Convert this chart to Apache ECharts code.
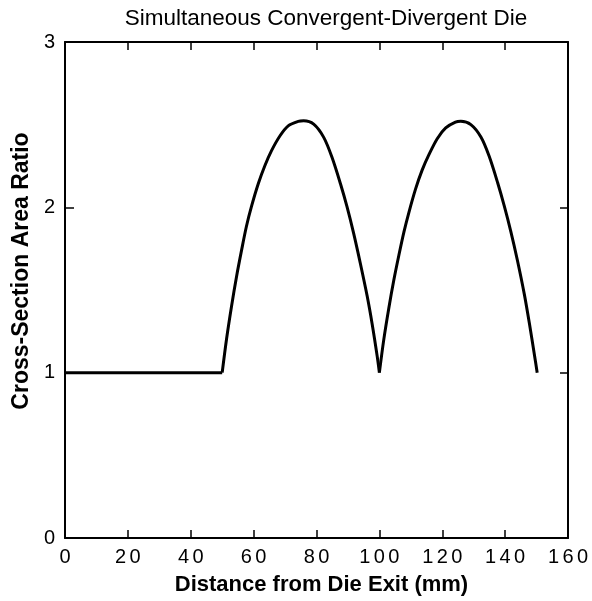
<!DOCTYPE html>
<html>
<head>
<meta charset="utf-8">
<script src="https://cdn.jsdelivr.net/npm/echarts@6/dist/echarts.min.js"></script>
<style>
html,body{margin:0;padding:0;background:#fff;}
#chart{width:592px;height:601px;}
</style>
</head>
<body>
<div id="chart"></div>
<script>
// Data
const titleText = 'Simultaneous Convergent-Divergent Die';
const xName = 'Distance from Die Exit (mm)';
const yName = 'Cross-Section Area Ratio';
const xTicks = [0, 20, 40, 60, 80, 100, 120, 140, 160];
const yTicks = [0, 1, 2, 3];

const flatX = [0, 50];
const flatY = [1, 1];

const arc1X = [50, 51.4, 53.0, 54.6, 56.2, 57.7, 59.3, 61.5, 63.6, 65.7, 68.4, 71.0, 74.2, 75.9, 79.1, 82.3, 84.9, 87.6, 89.7, 91.8, 93.9, 96.1, 97.7, 99.3, 100];
const arc1Y = [1.0, 1.205, 1.405, 1.585, 1.744, 1.884, 2.004, 2.144, 2.253, 2.343, 2.433, 2.493, 2.52, 2.523, 2.503, 2.423, 2.304, 2.144, 2.004, 1.844, 1.665, 1.465, 1.295, 1.1, 1.0];

const arc2X = [100, 101.4, 103, 104.6, 106.2, 107.8, 109.4, 111.5, 113.6, 115.8, 118.4, 121.1, 124.2, 125.9, 129.1, 132.3, 134.9, 137.6, 139.7, 141.8, 143.9, 146.1, 147.7, 149.3, 150.2];
const arc2Y = [1.0, 1.2, 1.39, 1.56, 1.71, 1.85, 1.97, 2.11, 2.225, 2.32, 2.415, 2.48, 2.515, 2.52, 2.5, 2.425, 2.31, 2.15, 2.01, 1.855, 1.68, 1.475, 1.3, 1.11, 1.0];

function pairs(xs, ys) { return xs.map((x, i) => [x, ys[i]]); }

const chart = echarts.init(document.getElementById('chart'), null, {renderer: 'canvas'});
const font = 'Liberation Sans, Arial, Helvetica, sans-serif';
const lineStyleSeries = {color: '#000', width: 3};
const axisLineStyle = {show: true, onZero: false, lineStyle: {color: '#000', width: 2}};

chart.setOption({
  animation: false,
  backgroundColor: '#fff',
  title: {
    text: titleText,
    left: 321, top: 2, textAlign: 'center',
    textStyle: {fontFamily: font, fontSize: 22.5, fontWeight: 'normal', color: '#000'}
  },
  grid: {left: 65, right: 24, top: 42, bottom: 58, containLabel: false},
  xAxis: [{
    type: 'value', min: 0, max: 160, interval: 20,
    position: 'bottom',
    name: xName, nameLocation: 'middle', nameGap: 36,
    nameTextStyle: {fontFamily: font, fontSize: 22, fontWeight: 'bold', color: '#000', padding: [0, 0, 0, 10]},
    axisLine: axisLineStyle,
    axisTick: {show: true, inside: true, length: 8, lineStyle: {color: '#000', width: 1.5}},
    axisLabel: {fontFamily: font, fontSize: 20, color: '#000', margin: 9,
      formatter: v => String(v).split('').join('\u2006')},
    splitLine: {show: false}
  }, {
    type: 'value', min: 0, max: 160, interval: 20,
    position: 'top',
    axisLine: axisLineStyle,
    axisTick: {show: true, inside: true, length: 8, lineStyle: {color: '#000', width: 1.5}},
    axisLabel: {show: false},
    splitLine: {show: false}
  }],
  yAxis: [{
    type: 'value', min: 0, max: 3, interval: 1,
    position: 'left',
    name: yName, nameLocation: 'middle', nameGap: 31, nameRotate: 90,
    nameTextStyle: {fontFamily: font, fontSize: 23, fontWeight: 'bold', color: '#000', padding: [0, 0, 0, 38]},
    axisLine: axisLineStyle,
    axisTick: {show: true, inside: true, length: 9, lineStyle: {color: '#000', width: 1.5}},
    axisLabel: {fontFamily: font, fontSize: 20, color: '#000', margin: 10},
    splitLine: {show: false}
  }, {
    type: 'value', min: 0, max: 3, interval: 1,
    position: 'right',
    axisLine: axisLineStyle,
    axisTick: {show: true, inside: true, length: 8, lineStyle: {color: '#000', width: 1.5}},
    axisLabel: {show: false},
    splitLine: {show: false}
  }],
  series: [
    {type: 'line', data: pairs(flatX, flatY), showSymbol: false, lineStyle: lineStyleSeries, xAxisIndex: 0, yAxisIndex: 0},
    {type: 'line', data: pairs(arc1X, arc1Y), showSymbol: false, smooth: 0.3, lineStyle: lineStyleSeries, xAxisIndex: 0, yAxisIndex: 0},
    {type: 'line', data: pairs(arc2X, arc2Y), showSymbol: false, smooth: 0.3, lineStyle: lineStyleSeries, xAxisIndex: 0, yAxisIndex: 0}
  ]
});
</script>
</body>
</html>
